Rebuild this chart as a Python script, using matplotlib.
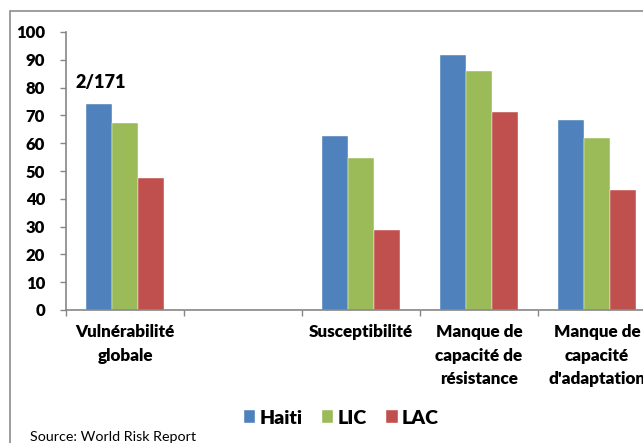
import matplotlib
matplotlib.use('Agg')
import matplotlib.pyplot as plt
import numpy as np
from matplotlib.patches import Rectangle

# %% data
categories = ['Vulnérabilité\nglobale', '', 'Susceptibilité',
              'Manque de\ncapacité de\nrésistance',
              "Manque de\ncapacité\nd'adaptation"]
series = ['Haiti', 'LIC', 'LAC']
haiti = [74.1, np.nan, 62.6, 91.6, 68.5]
lic = [67.4, np.nan, 54.8, 85.9, 61.8]
lac = [47.6, np.nan, 28.7, 71.1, 43.1]
rank_label = '2/171'
colors = ['#4F81BD', '#9BBB59', '#C0504D']

plt.rcParams['font.family'] = ['Lato', 'DejaVu Sans']
grey = '#868686'
wt = 'heavy'

fig = plt.figure(figsize=(6.43, 4.43), dpi=100)
ax = fig.add_axes([66/643, 133/443, 590/643, 278/443])

x = np.arange(len(categories))
w = 0.223
for i, (name, vals) in enumerate(zip(series, [haiti, lic, lac])):
    ax.bar(x + (i - 1) * w, vals, w, color=colors[i], label=name,
           edgecolor='white', linewidth=0.3)

ax.set_xlim(-0.5, len(categories) - 0.5)
ax.set_ylim(0, 100)
ax.set_yticks(np.arange(0, 101, 10))
ax.tick_params(axis='y', length=4.5, width=1, color=grey, pad=10.5,
               labelsize=12)
for t in ax.get_yticklabels():
    t.set_fontweight(wt)

# boundary ticks as major, labels on minor ticks at the centres
ax.set_xticks(np.arange(-0.5, len(categories), 1))
ax.set_xticklabels([])
ax.tick_params(axis='x', which='major', length=4, width=1, color=grey)
ax.set_xticks(x, minor=True)
ax.set_xticklabels(categories, minor=True, fontweight=wt, fontsize=12.3,
                   linespacing=1.6)
ax.tick_params(axis='x', which='minor', length=0, pad=10)

for s in ['top', 'right']:
    ax.spines[s].set_visible(False)
for s in ['left', 'bottom']:
    ax.spines[s].set_color(grey)
    ax.spines[s].set_linewidth(1.2)

ax.text(-0.203, 82, rank_label, ha='center', va='center',
        fontsize=13, fontweight=wt)

# outer chart frame
fig.patches.append(Rectangle((10/643, -0.1), 1.2, 1 - 11/443 + 0.1,
                             transform=fig.transFigure, fill=False,
                             edgecolor='#8c8c8c', linewidth=1.2))

fig.legend(loc='center', bbox_to_anchor=(341/643, 1 - 418/443), ncol=3,
           frameon=False, handlelength=0.6, handleheight=0.6,
           handletextpad=0.2, columnspacing=1.0,
           prop={'weight': wt, 'size': 14})

fig.text(30/643, 1 - 437/443, 'Source: World Risk Report', fontsize=10.3,
         va='center')

plt.savefig('out.png', dpi=100)
